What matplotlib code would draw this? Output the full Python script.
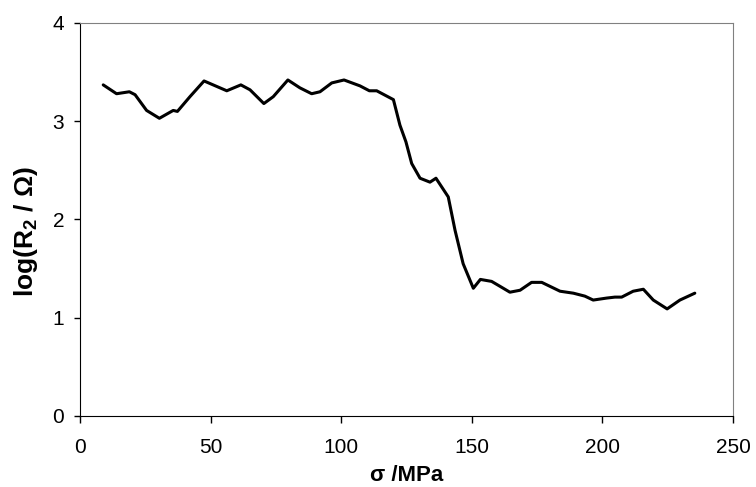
import matplotlib
matplotlib.use("Agg")
import matplotlib.pyplot as plt

plt.rcParams['font.family'] = ['Liberation Sans', 'DejaVu Sans']
plt.rcParams['mathtext.fontset'] = 'custom'
plt.rcParams['mathtext.bf'] = 'Liberation Sans:bold'
plt.rcParams['mathtext.rm'] = 'Liberation Sans:bold'
plt.rcParams['mathtext.default'] = 'bf'

# stress (MPa) and log(R2 / Ohm)
stress = [8.9, 14.0, 18.9, 21.1, 25.5, 30.4, 35.7, 37.3, 42.1, 47.5, 56.2, 61.6,
          65.1, 70.4, 74.0, 79.6, 84.2, 88.7, 91.9, 96.4, 101.1, 107.2, 110.8,
          113.6, 120.0, 122.5, 124.8, 127.0, 130.2, 134.0, 136.3, 141.0, 143.6,
          146.7, 150.6, 153.3, 157.6, 160.8, 164.6, 168.5, 172.9, 176.8, 183.8,
          188.9, 193.3, 196.5, 201.6, 204.8, 207.4, 211.8, 215.7, 219.5, 224.8,
          229.7, 235.4]
log_r2 = [3.37, 3.28, 3.30, 3.27, 3.11, 3.03, 3.11, 3.10, 3.25, 3.41, 3.31, 3.37,
          3.32, 3.18, 3.25, 3.42, 3.34, 3.28, 3.30, 3.39, 3.42, 3.36, 3.31,
          3.31, 3.22, 2.96, 2.79, 2.57, 2.42, 2.38, 2.42, 2.23, 1.89,
          1.55, 1.30, 1.39, 1.37, 1.32, 1.26, 1.28, 1.36, 1.36, 1.27,
          1.25, 1.22, 1.18, 1.20, 1.21, 1.21, 1.27, 1.29, 1.18, 1.09,
          1.18, 1.25]

fig = plt.figure(figsize=(7.56, 4.87), dpi=100)
ax = fig.add_axes([0.1058, 0.1458, 0.8637, 0.807])

ax.plot(stress, log_r2, color='black', linewidth=2.2,
        solid_joinstyle='round', solid_capstyle='round')

ax.set_xlim(0, 250)
ax.set_ylim(0, 4)
ax.set_xticks([0, 50, 100, 150, 200, 250])
ax.set_yticks([0, 1, 2, 3, 4])
ax.tick_params(direction='out', length=5, width=1, labelsize=15)
ax.tick_params(axis='x', pad=11)
ax.tick_params(axis='y', pad=7, length=4.5)

for side in ['top', 'right']:
    ax.spines[side].set_color('#808080')
for side in ['left', 'bottom']:
    ax.spines[side].set_color('black')

ax.set_xlabel('σ /MPa', fontsize=16, fontweight='bold')
ax.set_ylabel(r'log(R$_2$ / Ω)', fontsize=19, fontweight='bold')
ax.xaxis.set_label_coords(0.5, -0.125)
ax.yaxis.set_label_coords(-0.062, 0.47)

fig.savefig('out.png', dpi=100)
